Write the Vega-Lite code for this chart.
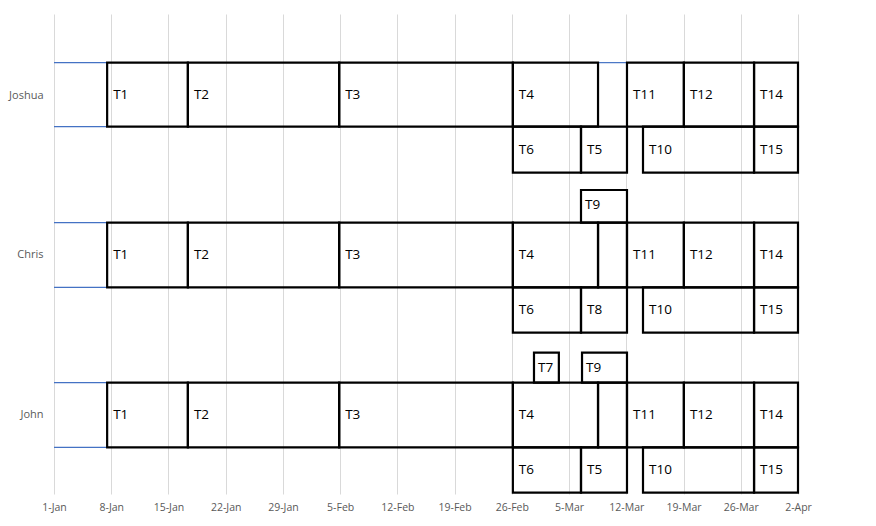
{
  "$schema": "https://vega.github.io/schema/vega-lite/v6.json",
  "width": 744,
  "height": 480,
  "autosize": {"type": "none"},
  "padding": {"left": 54, "top": 14, "right": 78, "bottom": 32},
  "background": "white",
  "config": {"view": {"stroke": null}},
  "data": {
    "values": [
      {"person": "Joshua", "task": "", "kind": "lead", "lane": "main", "start": "2018-01-01T00:00", "end": "2018-01-07T12:00", "y": 0.304, "y2": 0.704},
      {"person": "Joshua", "task": "", "kind": "lead", "lane": "main", "start": "2018-03-08T13:00", "end": "2018-03-12T02:00", "y": 0.304, "y2": 0.704},
      {"person": "Joshua", "task": "T1", "kind": "task", "lane": "main", "start": "2018-01-07T12:00", "end": "2018-01-17T09:00", "y": 0.304, "y2": 0.704},
      {"person": "Joshua", "task": "T2", "kind": "task", "lane": "main", "start": "2018-01-17T09:00", "end": "2018-02-04T21:00", "y": 0.304, "y2": 0.704},
      {"person": "Joshua", "task": "T3", "kind": "task", "lane": "main", "start": "2018-02-04T21:00", "end": "2018-02-26T03:00", "y": 0.304, "y2": 0.704},
      {"person": "Joshua", "task": "T4", "kind": "task", "lane": "main", "start": "2018-02-26T03:00", "end": "2018-03-08T13:00", "y": 0.304, "y2": 0.704},
      {"person": "Joshua", "task": "T11", "kind": "task", "lane": "main", "start": "2018-03-12T02:00", "end": "2018-03-19T01:00", "y": 0.304, "y2": 0.704},
      {"person": "Joshua", "task": "T12", "kind": "task", "lane": "main", "start": "2018-03-19T01:00", "end": "2018-03-27T15:00", "y": 0.304, "y2": 0.704},
      {"person": "Joshua", "task": "T14", "kind": "task", "lane": "main", "start": "2018-03-27T15:00", "end": "2018-04-02T00:00", "y": 0.304, "y2": 0.704},
      {"person": "Joshua", "task": "T6", "kind": "task", "lane": "lower", "start": "2018-02-26T03:00", "end": "2018-03-06T11:00", "y": 0.704, "y2": 0.992},
      {"person": "Joshua", "task": "T5", "kind": "task", "lane": "lower", "start": "2018-03-06T11:00", "end": "2018-03-12T02:00", "y": 0.704, "y2": 0.992},
      {"person": "Joshua", "task": "T10", "kind": "task", "lane": "lower", "start": "2018-03-14T01:00", "end": "2018-03-27T15:00", "y": 0.704, "y2": 0.992},
      {"person": "Joshua", "task": "T15", "kind": "task", "lane": "lower", "start": "2018-03-27T15:00", "end": "2018-04-02T00:00", "y": 0.704, "y2": 0.992},

      {"person": "Chris", "task": "", "kind": "lead", "lane": "main", "start": "2018-01-01T00:00", "end": "2018-01-07T12:00", "y": 1.304, "y2": 1.708},
      {"person": "Chris", "task": "T9", "kind": "task", "lane": "upper", "start": "2018-03-06T11:00", "end": "2018-03-12T02:00", "y": 1.1, "y2": 1.304},
      {"person": "Chris", "task": "", "kind": "blank", "lane": "main", "start": "2018-03-08T13:00", "end": "2018-03-12T02:00", "y": 1.304, "y2": 1.708},
      {"person": "Chris", "task": "T1", "kind": "task", "lane": "main", "start": "2018-01-07T12:00", "end": "2018-01-17T09:00", "y": 1.304, "y2": 1.708},
      {"person": "Chris", "task": "T2", "kind": "task", "lane": "main", "start": "2018-01-17T09:00", "end": "2018-02-04T21:00", "y": 1.304, "y2": 1.708},
      {"person": "Chris", "task": "T3", "kind": "task", "lane": "main", "start": "2018-02-04T21:00", "end": "2018-02-26T03:00", "y": 1.304, "y2": 1.708},
      {"person": "Chris", "task": "T4", "kind": "task", "lane": "main", "start": "2018-02-26T03:00", "end": "2018-03-08T13:00", "y": 1.304, "y2": 1.708},
      {"person": "Chris", "task": "T11", "kind": "task", "lane": "main", "start": "2018-03-12T02:00", "end": "2018-03-19T01:00", "y": 1.304, "y2": 1.708},
      {"person": "Chris", "task": "T12", "kind": "task", "lane": "main", "start": "2018-03-19T01:00", "end": "2018-03-27T15:00", "y": 1.304, "y2": 1.708},
      {"person": "Chris", "task": "T14", "kind": "task", "lane": "main", "start": "2018-03-27T15:00", "end": "2018-04-02T00:00", "y": 1.304, "y2": 1.708},
      {"person": "Chris", "task": "T6", "kind": "task", "lane": "lower", "start": "2018-02-26T03:00", "end": "2018-03-06T11:00", "y": 1.708, "y2": 1.992},
      {"person": "Chris", "task": "T8", "kind": "task", "lane": "lower", "start": "2018-03-06T11:00", "end": "2018-03-12T02:00", "y": 1.708, "y2": 1.992},
      {"person": "Chris", "task": "T10", "kind": "task", "lane": "lower", "start": "2018-03-14T01:00", "end": "2018-03-27T15:00", "y": 1.708, "y2": 1.992},
      {"person": "Chris", "task": "T15", "kind": "task", "lane": "lower", "start": "2018-03-27T15:00", "end": "2018-04-02T00:00", "y": 1.708, "y2": 1.992},

      {"person": "John", "task": "", "kind": "lead", "lane": "main", "start": "2018-01-01T00:00", "end": "2018-01-07T12:00", "y": 2.304, "y2": 2.708},
      {"person": "John", "task": "T7", "kind": "task", "lane": "upper", "start": "2018-02-28T17:00", "end": "2018-03-03T18:00", "y": 2.117, "y2": 2.304},
      {"person": "John", "task": "T9", "kind": "task", "lane": "upper", "start": "2018-03-06T14:00", "end": "2018-03-12T02:00", "y": 2.117, "y2": 2.304},
      {"person": "John", "task": "", "kind": "blank", "lane": "main", "start": "2018-03-08T13:00", "end": "2018-03-12T02:00", "y": 2.304, "y2": 2.708},
      {"person": "John", "task": "T1", "kind": "task", "lane": "main", "start": "2018-01-07T12:00", "end": "2018-01-17T09:00", "y": 2.304, "y2": 2.708},
      {"person": "John", "task": "T2", "kind": "task", "lane": "main", "start": "2018-01-17T09:00", "end": "2018-02-04T21:00", "y": 2.304, "y2": 2.708},
      {"person": "John", "task": "T3", "kind": "task", "lane": "main", "start": "2018-02-04T21:00", "end": "2018-02-26T03:00", "y": 2.304, "y2": 2.708},
      {"person": "John", "task": "T4", "kind": "task", "lane": "main", "start": "2018-02-26T03:00", "end": "2018-03-08T13:00", "y": 2.304, "y2": 2.708},
      {"person": "John", "task": "T11", "kind": "task", "lane": "main", "start": "2018-03-12T02:00", "end": "2018-03-19T01:00", "y": 2.304, "y2": 2.708},
      {"person": "John", "task": "T12", "kind": "task", "lane": "main", "start": "2018-03-19T01:00", "end": "2018-03-27T15:00", "y": 2.304, "y2": 2.708},
      {"person": "John", "task": "T14", "kind": "task", "lane": "main", "start": "2018-03-27T15:00", "end": "2018-04-02T00:00", "y": 2.304, "y2": 2.708},
      {"person": "John", "task": "T6", "kind": "task", "lane": "lower", "start": "2018-02-26T03:00", "end": "2018-03-06T11:00", "y": 2.708, "y2": 2.992},
      {"person": "John", "task": "T5", "kind": "task", "lane": "lower", "start": "2018-03-06T11:00", "end": "2018-03-12T02:00", "y": 2.708, "y2": 2.992},
      {"person": "John", "task": "T10", "kind": "task", "lane": "lower", "start": "2018-03-14T01:00", "end": "2018-03-27T15:00", "y": 2.708, "y2": 2.992},
      {"person": "John", "task": "T15", "kind": "task", "lane": "lower", "start": "2018-03-27T15:00", "end": "2018-04-02T00:00", "y": 2.708, "y2": 2.992}
    ]
  },
  "encoding": {
    "x": {
      "field": "start",
      "type": "temporal",
      "scale": {
        "domain": [{"year": 2018, "month": 1, "date": 1}, {"year": 2018, "month": 4, "date": 2}],
        "nice": false
      },
      "axis": {
        "title": null,
        "values": [
          {"year": 2018, "month": 1, "date": 1},
          {"year": 2018, "month": 1, "date": 8},
          {"year": 2018, "month": 1, "date": 15},
          {"year": 2018, "month": 1, "date": 22},
          {"year": 2018, "month": 1, "date": 29},
          {"year": 2018, "month": 2, "date": 5},
          {"year": 2018, "month": 2, "date": 12},
          {"year": 2018, "month": 2, "date": 19},
          {"year": 2018, "month": 2, "date": 26},
          {"year": 2018, "month": 3, "date": 5},
          {"year": 2018, "month": 3, "date": 12},
          {"year": 2018, "month": 3, "date": 19},
          {"year": 2018, "month": 3, "date": 26},
          {"year": 2018, "month": 4, "date": 2}
        ],
        "format": "%-d-%b",
        "grid": true,
        "gridColor": "#d9d9d9",
        "gridWidth": 1,
        "domain": false,
        "ticks": false,
        "labelPadding": 8,
        "labelFlush": false,
        "labelOverlap": false,
        "labelFont": "Open Sans",
        "labelFontSize": 10.5,
        "labelColor": "#595959"
      }
    },
    "y": {
      "field": "y",
      "type": "quantitative",
      "scale": {"domain": [0, 3], "reverse": true, "nice": false, "zero": false},
      "axis": {
        "title": null,
        "values": [0.51, 1.5, 2.5],
        "labelExpr": "datum.value < 1 ? 'Joshua' : datum.value < 2 ? 'Chris' : 'John'",
        "grid": false,
        "domain": false,
        "ticks": false,
        "labelPadding": 11,
        "labelFont": "Open Sans",
        "labelFontSize": 11,
        "labelColor": "#595959"
      }
    }
  },
  "layer": [
    {
      "transform": [{"filter": "datum.kind == 'lead'"}],
      "mark": {"type": "rule", "color": "#4472c4", "strokeWidth": 1.2},
      "encoding": {"x2": {"field": "end"}}
    },
    {
      "transform": [{"filter": "datum.kind == 'lead'"}],
      "mark": {"type": "rule", "color": "#4472c4", "strokeWidth": 1.2},
      "encoding": {"y": {"field": "y2", "type": "quantitative"}, "x2": {"field": "end"}}
    },
    {
      "transform": [{"filter": "datum.kind != 'lead'"}],
      "mark": {"type": "rect", "fill": "transparent", "stroke": "black", "strokeWidth": 2.2},
      "encoding": {"x2": {"field": "end"}, "y2": {"field": "y2"}}
    },
    {
      "transform": [{"filter": "datum.kind == 'task' && datum.lane == 'main'"}],
      "mark": {"type": "text", "align": "left", "baseline": "middle", "dx": 6, "dy": 32, "font": "Open Sans", "fontSize": 13.5, "color": "black"},
      "encoding": {"text": {"field": "task"}}
    },
    {
      "transform": [{"filter": "datum.kind == 'task' && datum.lane == 'lower'"}],
      "mark": {"type": "text", "align": "left", "baseline": "middle", "dx": 6, "dy": 23, "font": "Open Sans", "fontSize": 13.5, "color": "black"},
      "encoding": {"text": {"field": "task"}}
    },
    {
      "transform": [{"filter": "datum.kind == 'task' && datum.lane == 'upper'"}],
      "mark": {"type": "text", "align": "left", "baseline": "middle", "dx": 4, "dy": 15, "font": "Open Sans", "fontSize": 13.5, "color": "black"},
      "encoding": {"text": {"field": "task"}}
    }
  ]
}
